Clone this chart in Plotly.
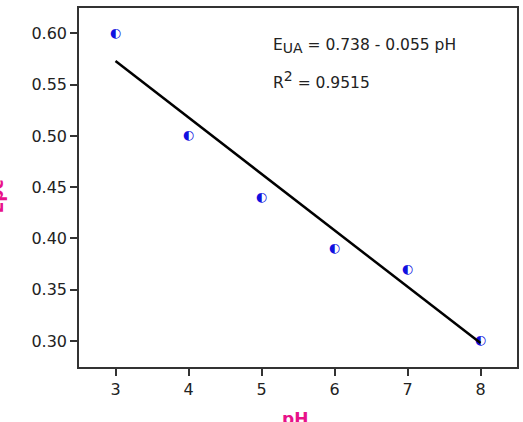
import plotly.graph_objects as go

ph = [3, 4, 5, 6, 7, 8]
epc = [0.60, 0.50, 0.44, 0.39, 0.37, 0.30]
intercept = 0.738
slope = -0.055
fit_x = [3, 8]
fit_y = [intercept + slope * x for x in fit_x]
x_ticks = [3, 4, 5, 6, 7, 8]
y_ticks = [0.30, 0.35, 0.40, 0.45, 0.50, 0.55, 0.60]

W, H = 523, 422
L, R, T, B = 79, 4, 8, 55
pw, ph_ = W - L - R, H - T - B


def px_x(p):
    return (p - L) / pw


def px_y(p):
    return 1 - (p - T) / ph_


fig = go.Figure()
fig.add_trace(go.Scatter(
    x=ph, y=epc, mode="text", text=["◐"] * len(ph),
    textposition="middle center",
    textfont=dict(family="DejaVu Sans", size=13, color="#1010e0"),
    showlegend=False, hoverinfo="skip"))
fig.add_trace(go.Scatter(
    x=fit_x, y=fit_y, mode="lines",
    line=dict(color="black", width=2.5), showlegend=False))

axis_common = dict(
    showline=True, linecolor="#333", linewidth=1.5, mirror=True,
    ticks="outside", ticklen=7, tickcolor="#333", tickwidth=1.5,
    showgrid=False, zeroline=False,
    tickfont=dict(family="DejaVu Sans", size=16, color="#222"))

fig.update_layout(
    width=W, height=H,
    margin=dict(l=L, r=R, t=T, b=B),
    plot_bgcolor="white", paper_bgcolor="white",
    xaxis=dict(range=[2.5, 8.5], tickvals=x_ticks,
               ticktext=[str(v) for v in x_ticks], **axis_common),
    yaxis=dict(range=[0.2747, 0.6247], tickvals=y_ticks,
               ticktext=[f"{v:.2f}" for v in y_ticks], **axis_common),
    annotations=[
        dict(xref="paper", yref="paper",
             x=px_x(272), y=px_y(46),
             xanchor="left", yanchor="middle", showarrow=False,
             text="E<sub><span style='font-size:14px'>UA</span></sub> = 0.738 - 0.055 pH",
             font=dict(family="DejaVu Sans", size=15.5, color="#222")),
        dict(xref="paper", yref="paper",
             x=px_x(272), y=px_y(80),
             xanchor="left", yanchor="middle", showarrow=False,
             text="R<sup><span style='font-size:14px'>2</span></sup> = 0.9515",
             font=dict(family="DejaVu Sans", size=15.5, color="#222")),
        dict(xref="paper", yref="paper",
             x=px_x(-3), y=px_y(196),
             xanchor="center", yanchor="middle", showarrow=False,
             textangle=-90, text="<b>Epc</b>",
             font=dict(family="DejaVu Sans", size=17, color="#e8128a")),
        dict(xref="paper", yref="paper",
             x=px_x(296), y=px_y(419),
             xanchor="center", yanchor="middle", showarrow=False,
             text="<b>pH</b>",
             font=dict(family="DejaVu Sans", size=17, color="#e8128a")),
    ])

fig.write_html("out.html")
